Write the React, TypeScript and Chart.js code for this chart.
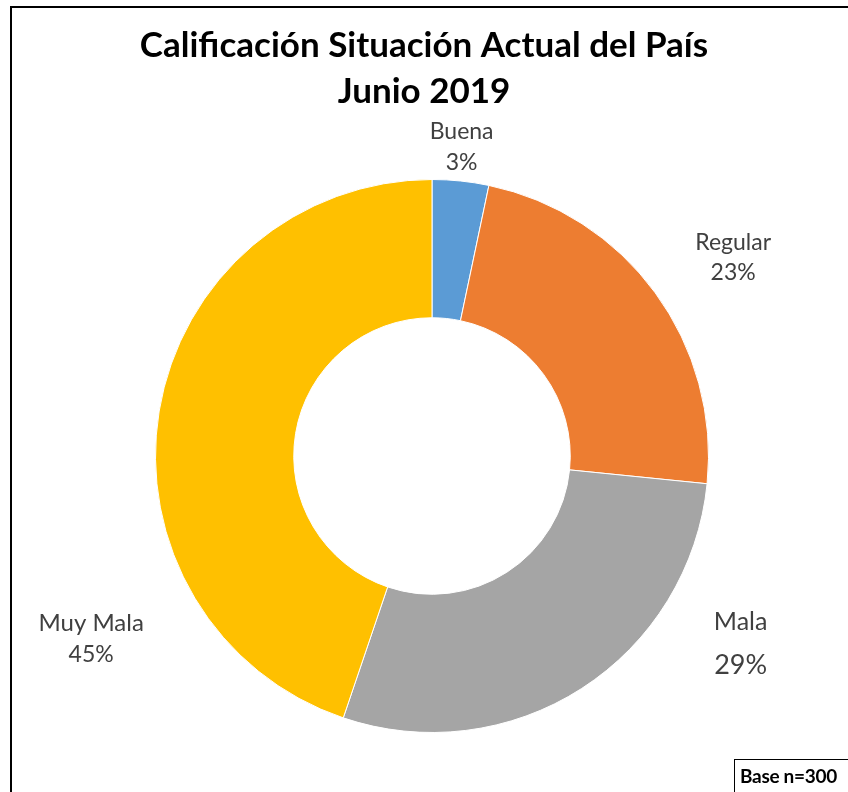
import React, { useEffect, useRef } from "react";
import { Chart, registerables } from "chart.js";
Chart.register(...registerables);

const categories = ["Buena", "Regular", "Mala", "Muy Mala"];
const values = [3.3, 23.3, 28.6, 44.8];
const percentLabels = ["3%", "23%", "29%", "45%"];
const colors = ["#5B9BD5", "#ED7D31", "#A5A5A5", "#FFC000"];
const titleLines = ["Calificación Situación Actual del País", "Junio 2019"];
const baseNote = "Base n=300";

// label placement relative to the arc's outer mid point
const labelPlacement = [
  { dx: 1, dy: -34, nameDy: -15.5, pctDy: 15.5, nameSize: 23, pctSize: 23 },
  { dx: 78, dy: -35, nameDy: -15, pctDy: 15, nameSize: 23, pctSize: 23 },
  { dx: 159, dy: -45, nameDy: -22, pctDy: 22, nameSize: 25, pctSize: 27 },
  { dx: -68, dy: 228, nameDy: -15.5, pctDy: 15.5, nameSize: 24, pctSize: 23 },
];

const FONT = "Lato, 'Open Sans', sans-serif";

const labelPlugin = {
  id: "sliceLabels",
  afterDatasetsDraw(chart: any) {
    const ctx = chart.ctx;
    const meta = chart.getDatasetMeta(0);
    ctx.save();
    ctx.fillStyle = "#404040";
    ctx.textAlign = "center";
    ctx.textBaseline = "middle";
    meta.data.forEach((arc: any, i: number) => {
      const p = arc.getProps(["x", "y", "startAngle", "endAngle", "outerRadius"], true);
      const mid = (p.startAngle + p.endAngle) / 2;
      const ax = p.x + Math.cos(mid) * p.outerRadius;
      const ay = p.y + Math.sin(mid) * p.outerRadius;
      const pl = labelPlacement[i];
      const cx = ax + pl.dx;
      const cy = ay + pl.dy;
      ctx.font = `${pl.nameSize}px ${FONT}`;
      ctx.fillText(categories[i], cx, cy + pl.nameDy);
      ctx.font = `${pl.pctSize}px ${FONT}`;
      ctx.fillText(percentLabels[i], cx, cy + pl.pctDy);
    });
    ctx.restore();
  },
};

const titlePlugin = {
  id: "centeredTitle",
  afterDraw(chart: any) {
    const ctx = chart.ctx;
    ctx.save();
    ctx.fillStyle = "#000000";
    ctx.textAlign = "center";
    ctx.textBaseline = "middle";
    ctx.font = `bold 35px ${FONT}`;
    titleLines.forEach((line, i) => {
      ctx.fillText(line, chart.width / 2, 46 + i * 46);
    });
    ctx.restore();
  },
};

function DoughnutChart() {
  const ref = useRef<HTMLCanvasElement>(null);
  useEffect(() => {
    if (!ref.current) return;
    const chart = new Chart(ref.current, {
      type: "doughnut",
      data: {
        labels: categories,
        datasets: [
          {
            data: values,
            backgroundColor: colors,
            borderColor: "#ffffff",
            borderWidth: 1,
          },
        ],
      },
      options: {
        animation: false,
        responsive: false,
        cutout: "50%",
        layout: { padding: { top: 179, left: 155, right: 139, bottom: 59 } },
        plugins: {
          legend: { display: false },
          tooltip: { enabled: false },
          title: { display: false },
        },
      },
      plugins: [labelPlugin, titlePlugin],
    });
    return () => chart.destroy();
  }, []);
  return <canvas ref={ref} width={848} height={792} style={{ display: "block" }} />;
}

export default function App() {
  return (
    <div
      style={{
        position: "fixed",
        left: 0,
        top: 0,
        width: 848,
        height: 792,
        overflow: "hidden",
        background: "#ffffff",
      }}
    >
      <div
        style={{
          position: "absolute",
          left: 10,
          top: 6,
          width: 900,
          height: 900,
          border: "2px solid #000",
          boxSizing: "border-box",
        }}
      />
      <div style={{ position: "absolute", left: 0, top: 0 }}>
        <DoughnutChart />
      </div>
      <div
        style={{
          position: "absolute",
          left: 734,
          top: 759,
          width: 200,
          height: 60,
          border: "1.5px solid #000",
          boxSizing: "border-box",
          paddingLeft: 5,
          paddingTop: 4,
          fontFamily: FONT,
          fontWeight: "bold",
          fontSize: 19,
          letterSpacing: -0.3,
          color: "#000",
          whiteSpace: "nowrap",
        }}
      >
        {baseNote}
      </div>
    </div>
  );
}
